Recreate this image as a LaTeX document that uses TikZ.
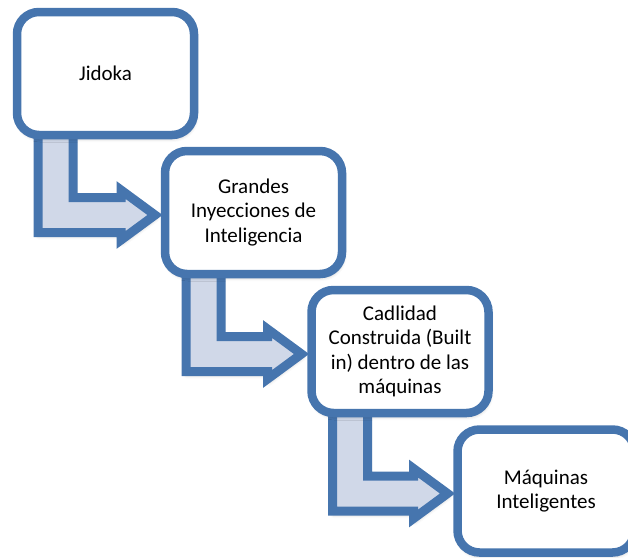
\documentclass[tikz,border=0pt]{standalone}
\usepackage{fontspec}
\setmainfont{Carlito}
\usetikzlibrary{calc,backgrounds,shadows.blur}
\definecolor{boxblue}{HTML}{4675AE}
\definecolor{arrowfill}{HTML}{D0D8E8}
\tikzset{
  softshadow/.style={blur shadow={shadow xshift=1pt, shadow yshift=-3pt,
      shadow blur radius=4pt, shadow opacity=30}},
  stepbox/.style={draw=boxblue, line width=8.5pt, fill=white,
      rounded corners=22pt, minimum width=177pt, minimum height=123pt,
      inner sep=0pt, outer sep=0pt, align=center,
      font=\fontsize{21}{24.5}\selectfont, softshadow},
  flowarrow/.style={draw=boxblue, line width=9pt, fill=arrowfill,
      line join=miter, miter limit=10, softshadow},
}
% bent block arrow: down out of box #1, then right into the left side of box #2
\newcommand\stepflow[2]{%
  \draw[flowarrow] let \p1=(#1.south west), \p2=(#2.west) in
    (\x1+21pt,\y1+10pt) -- (\x1+21pt,\y2-20pt) -- (\x2-44pt,\y2-20pt)
    -- (\x2-44pt,\y2-27.5pt) -- (\x2-10pt,\y2-2.5pt) -- (\x2-44pt,\y2+22.5pt)
    -- (\x2-44pt,\y2+15pt) -- (\x1+56pt,\y2+15pt) -- (\x1+56pt,\y1+10pt) -- cycle;}
\begin{document}
\begin{tikzpicture}[x=1pt,y=-1pt]
  \useasboundingbox (0,0) rectangle (628,557);
  \clip (0,0) rectangle (628,557);
  \node[stepbox] (b1) at (105.5,73.5) {Jidoka};
  \node[stepbox] (b2) at (253.5,212.5) {Grandes\\Inyecciones de\\Inteligencia};
  \node[stepbox] (b3) at (400,351.5) {Cadlidad\\Construida (Built\\in) dentro de las\\máquinas};
  \node[stepbox] (b4) at (546,491) {Máquinas\\Inteligentes};
  \begin{scope}[on background layer]
    \stepflow{b1}{b2}
    \stepflow{b2}{b3}
    \stepflow{b3}{b4}
  \end{scope}
\end{tikzpicture}
\end{document}
